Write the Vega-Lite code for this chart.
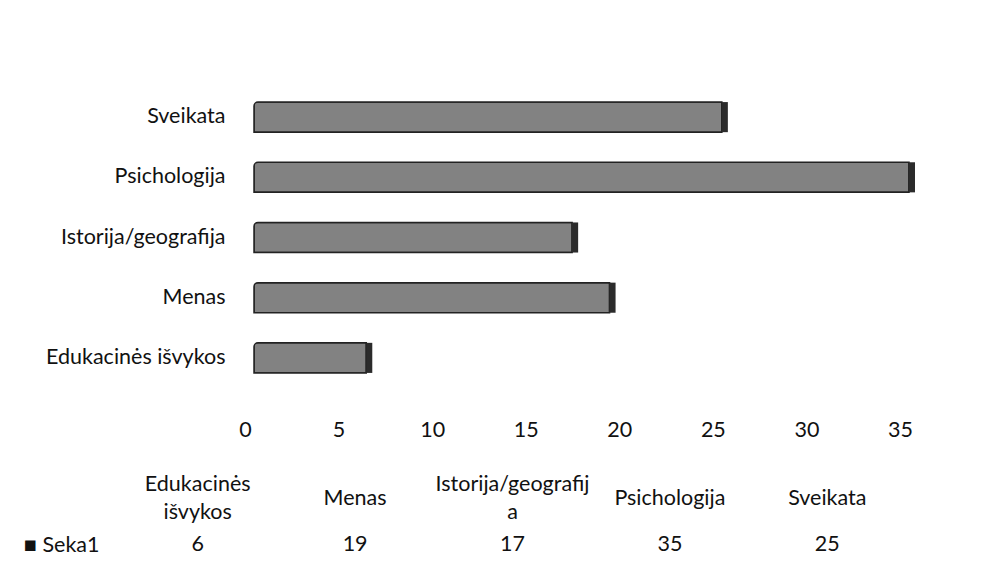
{
  "$schema": "https://vega.github.io/schema/vega-lite/v6.json",
  "background": "white",
  "padding": {"left": 23, "top": 78, "right": 5, "bottom": 5},
  "config": {
    "view": {"stroke": null},
    "font": "Lato",
    "axis": {"labelFont": "Lato", "labelColor": "#111111", "labelFontSize": 21.5, "domain": false, "ticks": false, "grid": false, "title": null},
    "text": {"font": "Lato"}
  },
  "datasets": {
    "duom": [
      {"kategorija": "Edukacinės išvykos", "antraste": "Edukacinės\nišvykos", "reiksme": 6, "serija": "Seka1"},
      {"kategorija": "Menas", "antraste": "Menas", "reiksme": 19, "serija": "Seka1"},
      {"kategorija": "Istorija/geografija", "antraste": "Istorija/geografij\na", "reiksme": 17, "serija": "Seka1"},
      {"kategorija": "Psichologija", "antraste": "Psichologija", "reiksme": 35, "serija": "Seka1"},
      {"kategorija": "Sveikata", "antraste": "Sveikata", "reiksme": 25, "serija": "Seka1"}
    ]
  },
  "spacing": 33,
  "vconcat": [
    {
      "width": 655,
      "height": 319,
      "data": {"name": "duom"},
      "encoding": {
        "y": {
          "field": "kategorija", "type": "nominal",
          "sort": ["Sveikata", "Psichologija", "Istorija/geografija", "Menas", "Edukacinės išvykos"],
          "scale": {"paddingInner": 0.5, "paddingOuter": 0.4},
          "axis": {"labelPadding": 29}
        }
      },
      "layer": [
        {
          "mark": {"type": "bar", "color": "#828282", "stroke": "#222222", "strokeWidth": 1.5, "cornerRadiusTopLeft": 4},
          "encoding": {
            "x": {"field": "reiksme", "type": "quantitative",
              "scale": {"domain": [0, 35], "nice": false},
              "axis": {"values": [0, 5, 10, 15, 20, 25, 30, 35], "labelPadding": 22, "labelOffset": -9, "labelFlush": false}}
          }
        },
        {
          "mark": {"type": "bar", "color": "#2b2b2b", "x2Offset": 6},
          "encoding": {
            "x": {"field": "reiksme", "type": "quantitative"},
            "x2": {"field": "reiksme"}
          }
        }
      ]
    },
    {
      "width": 655,
      "height": 92,
      "data": {"name": "duom"},
      "encoding": {
        "x": {
          "field": "kategorija", "type": "nominal",
          "sort": ["Edukacinės išvykos", "Menas", "Istorija/geografija", "Psichologija", "Sveikata"],
          "scale": {"range": [-135, 652], "paddingInner": 0, "paddingOuter": 0},
          "axis": null
        }
      },
      "layer": [
        {
          "transform": [{"filter": "indexof(datum.antraste, '\\n') < 0"}],
          "mark": {"type": "text", "fontSize": 21.5, "color": "#111111"},
          "encoding": {
            "y": {"datum": "hdr", "type": "nominal",
              "scale": {"domain": ["hdr", "Seka1"], "paddingInner": 0, "paddingOuter": 0},
              "axis": {"offset": 150, "labelPadding": 5, "labelExpr": "datum.value == 'Seka1' ? '■ Seka1' : ''"}},
            "text": {"field": "antraste"}
          }
        },
        {
          "transform": [{"filter": "indexof(datum.antraste, '\\n') >= 0"}],
          "mark": {"type": "text", "fontSize": 21.5, "color": "#111111", "lineBreak": "\n", "lineHeight": 28, "dy": -14},
          "encoding": {
            "y": {"datum": "hdr", "type": "nominal"},
            "text": {"field": "antraste"}
          }
        },
        {
          "mark": {"type": "text", "fontSize": 21.5, "color": "#111111"},
          "encoding": {
            "y": {"field": "serija", "type": "nominal"},
            "text": {"field": "reiksme", "type": "quantitative"}
          }
        }
      ]
    }
  ]
}
